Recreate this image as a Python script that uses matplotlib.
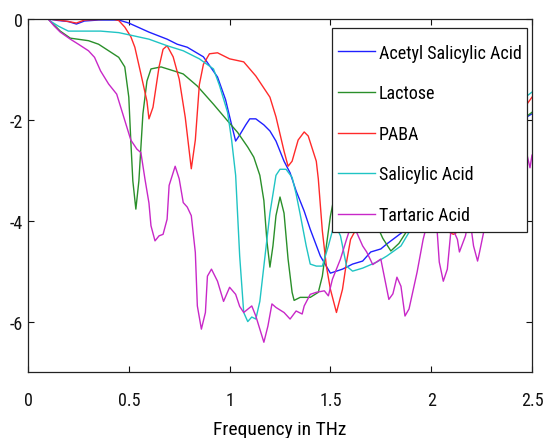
import matplotlib
matplotlib.use('Agg')
import matplotlib.pyplot as plt
from matplotlib import font_manager
from matplotlib.patches import Rectangle

# frequency (THz) and absorbance samples for each compound
asa_f = [0.10, 0.15, 0.20, 0.24, 0.28, 0.35, 0.45, 0.50, 0.60, 0.69, 0.74, 0.79, 0.87, 0.94, 0.98,
         1.01, 1.03, 1.05, 1.08, 1.10, 1.13, 1.17, 1.20, 1.23, 1.27, 1.30, 1.33, 1.37, 1.40, 1.45,
         1.50, 1.56, 1.61, 1.66, 1.70, 1.75, 1.78, 1.86, 1.95, 2.05, 2.15, 2.25, 2.35, 2.45, 2.50]
asa_a = [0, -0.03, -0.05, -0.1, -0.04, -0.02, -0.02, -0.08, -0.26, -0.4, -0.5, -0.56, -0.75, -1.15, -1.6,
         -2.1, -2.42, -2.3, -2.1, -1.98, -1.98, -2.1, -2.22, -2.42, -2.82, -3.05, -3.41, -3.81, -4.17, -4.70,
         -5.04, -4.96, -4.86, -4.80, -4.62, -4.56, -4.46, -4.22, -3.9, -3.5, -3.1, -2.7, -2.35, -2.0, -1.88]

lac_f = [0.10, 0.13, 0.16, 0.21, 0.30, 0.35, 0.40, 0.45, 0.48, 0.50, 0.51, 0.52, 0.535, 0.55, 0.57,
         0.59, 0.61, 0.66, 0.74, 0.77, 0.84, 0.92, 0.99, 1.04, 1.09, 1.12, 1.15, 1.17, 1.185, 1.20,
         1.215, 1.23, 1.25, 1.27, 1.29, 1.31, 1.32, 1.35, 1.40, 1.44, 1.46, 1.48, 1.50, 1.52, 1.58,
         1.65, 1.72, 1.76, 1.80, 1.84, 1.88, 1.95, 2.05, 2.15, 2.25, 2.35, 2.45, 2.50]
lac_a = [0, -0.12, -0.24, -0.38, -0.43, -0.5, -0.63, -0.76, -0.95, -1.55, -2.42, -3.21, -3.77, -3.21, -1.88,
         -1.23, -0.99, -0.95, -1.05, -1.09, -1.33, -1.69, -2.02, -2.25, -2.54, -2.74, -3.1, -3.6, -4.4, -4.92,
         -4.5, -3.9, -3.53, -3.85, -4.76, -5.42, -5.58, -5.52, -5.52, -5.42, -5.1, -4.5, -3.91, -3.5, -3.3,
         -3.5, -4.0, -4.35, -4.6, -4.45, -4.2, -3.9, -3.6, -3.2, -2.8, -2.4, -2.0, -1.85]

paba_f = [0.10, 0.15, 0.20, 0.24, 0.28, 0.35, 0.42, 0.45, 0.48, 0.51, 0.53, 0.56, 0.59, 0.60, 0.62,
          0.65, 0.67, 0.69, 0.72, 0.75, 0.78, 0.81, 0.83, 0.85, 0.87, 0.90, 0.94, 1.00, 1.07, 1.13,
          1.20, 1.23, 1.27, 1.29, 1.31, 1.34, 1.37, 1.39, 1.43, 1.44, 1.46, 1.48, 1.50, 1.53, 1.56,
          1.58, 1.60, 1.65, 1.75, 1.85, 1.95, 2.05, 2.11, 2.14, 2.20, 2.30, 2.40, 2.50]
paba_a = [0, -0.02, -0.05, -0.08, -0.02, -0.01, 0, -0.03, -0.16, -0.35, -0.56, -1.09, -1.63, -1.98, -1.75,
          -0.95, -0.6, -0.53, -0.75, -1.19, -1.95, -2.97, -2.4, -1.3, -0.9, -0.69, -0.67, -0.79, -0.85, -1.13,
          -1.55, -1.94, -2.62, -2.92, -2.82, -2.4, -2.24, -2.32, -2.82, -3.17, -4.2, -4.9, -5.36, -5.82, -5.36,
          -4.82, -4.37, -4.0, -3.9, -4.0, -4.1, -4.15, -4.27, -4.2, -3.7, -2.9, -2.1, -1.55]

sal_f = [0.10, 0.11, 0.15, 0.20, 0.26, 0.36, 0.45, 0.52, 0.60, 0.69, 0.77, 0.85, 0.92, 0.95, 0.99,
         1.01, 1.03, 1.04, 1.05, 1.07, 1.09, 1.11, 1.13, 1.15, 1.17, 1.20, 1.23, 1.25, 1.28, 1.31,
         1.33, 1.35, 1.38, 1.40, 1.43, 1.46, 1.49, 1.52, 1.55, 1.58, 1.61, 1.66, 1.73, 1.78, 1.85,
         1.89, 1.95, 2.05, 2.15, 2.25, 2.35, 2.45, 2.50]
sal_a = [0, -0.04, -0.14, -0.24, -0.24, -0.24, -0.27, -0.33, -0.4, -0.53, -0.63, -0.79, -0.99, -1.32, -1.85,
         -2.4, -3.1, -3.9, -4.7, -5.82, -6.0, -5.91, -5.95, -5.6, -4.9, -3.85, -3.1, -2.98, -2.98, -3.14,
         -3.47, -3.87, -4.5, -4.86, -4.9, -4.9, -4.5, -4.05, -4.3, -4.9, -5.0, -4.94, -4.82, -4.7, -4.5,
         -4.23, -3.8, -3.3, -2.8, -2.4, -2.0, -1.6, -1.45]

tar_f = [0.10, 0.13, 0.16, 0.21, 0.25, 0.30, 0.33, 0.36, 0.40, 0.44, 0.47, 0.51, 0.54, 0.56, 0.58,
         0.60, 0.61, 0.63, 0.65, 0.67, 0.69, 0.70, 0.73, 0.75, 0.77, 0.79, 0.81, 0.83, 0.84, 0.86,
         0.88, 0.89, 0.91, 0.94, 0.97, 1.00, 1.03, 1.05, 1.07, 1.11, 1.13, 1.17, 1.19, 1.21, 1.23,
         1.27, 1.30, 1.33, 1.36, 1.37, 1.40, 1.43, 1.47, 1.49, 1.51, 1.55, 1.58, 1.61, 1.63, 1.66,
         1.68, 1.71, 1.75, 1.77, 1.79, 1.81, 1.83, 1.85, 1.87, 1.89, 1.93, 1.96, 1.99, 2.03, 2.04,
         2.06, 2.08, 2.10, 2.13, 2.14, 2.17, 2.19, 2.21, 2.23, 2.24, 2.26, 2.30, 2.38, 2.44, 2.47,
         2.49, 2.50]
tar_a = [0, -0.14, -0.26, -0.4, -0.5, -0.63, -0.76, -1.03, -1.29, -1.49, -1.88, -2.4, -2.58, -2.65, -3.17,
         -3.65, -4.1, -4.4, -4.3, -4.27, -3.97, -3.3, -2.92, -3.17, -3.64, -3.73, -3.9, -4.63, -5.69, -6.15,
         -5.82, -5.1, -4.96, -5.2, -5.6, -5.32, -5.46, -5.7, -5.82, -5.69, -5.89, -6.41, -6.09, -5.65, -5.72,
         -5.82, -5.95, -5.79, -5.85, -5.69, -5.46, -5.42, -5.39, -5.49, -5.16, -4.76, -4.37, -4.0, -4.23, -4.5,
         -4.62, -4.87, -4.76, -5.16, -5.56, -5.45, -5.12, -5.3, -5.89, -5.75, -5.02, -4.37, -3.9, -4.23, -4.82,
         -5.2, -4.96, -4.1, -4.37, -4.62, -4.3, -3.9, -4.5, -4.8, -4.62, -4.23, -3.6, -3.2, -2.9, -2.6,
         -2.95, -2.7]

names = ['Acetyl Salicylic Acid', 'Lactose', 'PABA', 'Salicylic Acid', 'Tartaric Acid']
colors = ['#2020ff', '#2a8f2a', '#ff2a2a', '#20c4c4', '#c828c8']
series = [(asa_f, asa_a), (lac_f, lac_a), (paba_f, paba_a), (sal_f, sal_a), (tar_f, tar_a)]

xticks = [0, 0.5, 1, 1.5, 2, 2.5]
xticklabels = ['0', '0.5', '1', '1.5', '2', '2.5']
yticks = [-6, -4, -2, 0]
yticklabels = ['-6', '-4', '-2', '0']

# use a narrow sans when one is installed, otherwise shrink the regular one
installed = {f.name for f in font_manager.fontManager.ttflist}
fam = 'Liberation Sans'
tick_fs, leg_fs, lab_fs = 11.5, 11.5, 12
for cand in ['Liberation Sans Narrow', 'Arial Narrow', 'Roboto Condensed']:
    if cand in installed:
        fam = cand
        tick_fs, leg_fs, lab_fs = 13, 13, 14
        break
plt.rcParams['font.family'] = [fam, 'DejaVu Sans']

fig = plt.figure(figsize=(5.44, 4.39), dpi=100)
ax = fig.add_axes([28/544, 66/439, 504/544, 353/439])

for (f, a), name, c in zip(series, names, colors):
    ax.plot(f, a, color=c, lw=1.0, label=name)

ax.set_xlim(0, 2.5)
ax.set_ylim(-7, 0)
ax.set_xticks(xticks)
ax.set_xticklabels(xticklabels)
ax.set_yticks(yticks)
ax.set_yticklabels(yticklabels)
ax.tick_params(direction='in', length=4, width=0.8, top=True, right=True,
               labelsize=tick_fs, colors='#111111')
ax.tick_params(axis='x', pad=13.5)
ax.tick_params(axis='y', pad=3.5)
for s in ax.spines.values():
    s.set_linewidth(0.9)
    s.set_color('#222222')

ax.set_xlabel('Frequency in THz', fontsize=lab_fs, labelpad=8)

# legend box drawn as its own patch so the entries can sit freely inside it
box = Rectangle((0.603, 0.397), 0.387, 0.578, transform=ax.transAxes,
                facecolor='white', edgecolor='#222222', lw=0.9, zorder=4)
ax.add_patch(box)
leg = ax.legend(loc='upper left', bbox_to_anchor=(0.615, 0.93), frameon=False,
                fontsize=leg_fs, borderpad=0, labelspacing=1.25,
                handlelength=2.05, handletextpad=0.2, borderaxespad=0)
leg.set_zorder(5)

fig.savefig('out.png', dpi=100)
